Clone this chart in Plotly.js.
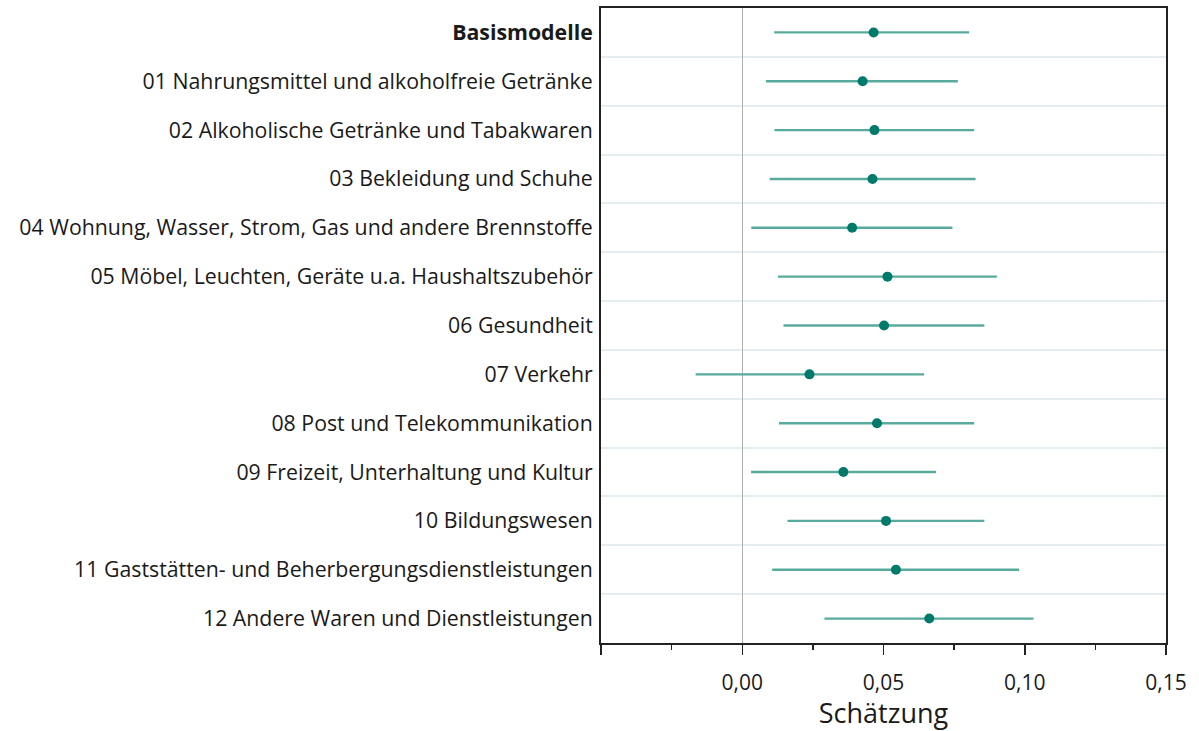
<!DOCTYPE html>
<html>
<head>
<meta charset="utf-8">
<script src="https://cdn.plot.ly/plotly-3.0.1.min.js"></script>
<style>html,body{margin:0;padding:0;background:#fff;}#chart{width:1199px;height:731px;}</style>
</head>
<body>
<div id="chart"></div>
<script>
const categories = [
  "<b>Basismodelle</b>",
  "01 Nahrungsmittel und alkoholfreie Getränke",
  "02 Alkoholische Getränke und Tabakwaren",
  "03 Bekleidung und Schuhe",
  "04 Wohnung, Wasser, Strom, Gas und andere Brennstoffe",
  "05 Möbel, Leuchten, Geräte u.a. Haushaltszubehör",
  "06 Gesundheit",
  "07 Verkehr",
  "08 Post und Telekommunikation",
  "09 Freizeit, Unterhaltung und Kultur",
  "10 Bildungswesen",
  "11 Gaststätten- und Beherbergungsdienstleistungen",
  "12 Andere Waren und Dienstleistungen"
];
const estimate = [0.0465, 0.0426, 0.0468, 0.0461, 0.0389, 0.0514, 0.0502, 0.0238, 0.0477, 0.0358, 0.0509, 0.0544, 0.0662];
const lower    = [0.0113, 0.0084, 0.0114, 0.0097, 0.0032, 0.0126, 0.0146, -0.0165, 0.0130, 0.0031, 0.0160, 0.0106, 0.0291];
const upper    = [0.0803, 0.0763, 0.0821, 0.0826, 0.0744, 0.0901, 0.0857, 0.0644, 0.0821, 0.0686, 0.0857, 0.0980, 0.1031];
const xTickVals = [-0.05, 0, 0.05, 0.10, 0.15];
const xTickText = ["", "0,00", "0,05", "0,10", "0,15"];

const idx = categories.map((c, i) => i);

const trace = {
  type: "scatter",
  mode: "markers",
  x: estimate,
  y: idx,
  marker: {color: "#007a6b", size: 10},
  error_x: {
    type: "data",
    symmetric: false,
    array: upper.map((u, i) => u - estimate[i]),
    arrayminus: lower.map((l, i) => estimate[i] - l),
    width: 0,
    thickness: 2.4,
    color: "#58ab9c"
  },
  hoverinfo: "x+y",
  showlegend: false
};

const layout = {
  width: 1199,
  height: 731,
  margin: {l: 601, r: 33, t: 8, b: 88},
  paper_bgcolor: "#ffffff",
  plot_bgcolor: "#ffffff",
  font: {family: "'Open Sans', 'Noto Sans', sans-serif", color: "#1a1a1a"},
  xaxis: {
    range: [-0.05, 0.15],
    tickvals: xTickVals,
    ticktext: xTickText,
    ticks: "outside",
    ticklen: 10,
    tickwidth: 1.5,
    tickcolor: "#222",
    tickfont: {size: 21, color: "#1a1a1a"},
    ticklabelstandoff: 10,
    showline: true,
    linecolor: "#222",
    linewidth: 2,
    mirror: true,
    showgrid: false,
    zeroline: true,
    zerolinecolor: "#b0b0b0",
    zerolinewidth: 1.5,
    minor: {dtick: 0.025, tick0: 0, ticks: "outside", ticklen: 5, tickwidth: 1.5, tickcolor: "#222", showgrid: false},
    title: {text: "Schätzung", font: {size: 27, color: "#1a1a1a"}, standoff: 2}
  },
  yaxis: {
    range: [12.5, -0.5],
    tickvals: idx,
    ticktext: categories,
    ticks: "",
    tickfont: {size: 21.3, color: "#1a1a1a"},
    ticklabelstandoff: 2,
    showline: true,
    linecolor: "#222",
    linewidth: 2,
    mirror: true,
    showgrid: false,
    zeroline: false,
    minor: {tick0: 0.5, dtick: 1, showgrid: true, gridcolor: "#e4eef0", gridwidth: 2, ticks: ""}
  }
};

Plotly.newPlot("chart", [trace], layout, {displayModeBar: false, staticPlot: true});
</script>
</body>
</html>
